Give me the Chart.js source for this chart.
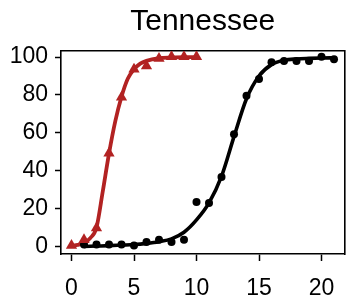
<!DOCTYPE html>
<html>
<head>
<meta charset="utf-8">
<script src="https://cdn.jsdelivr.net/npm/chart.js@4/dist/chart.umd.min.js"></script>
<style>
html,body{margin:0;padding:0;background:#fff;}
#wrap{width:351px;height:301px;position:relative;}
</style>
</head>
<body>
<div id="wrap"><canvas id="c" width="351" height="301"></canvas></div>
<script>
const titleText = "Tennessee";
const xTicks = [0, 5, 10, 15, 20];
const yTicks = [0, 20, 40, 60, 80, 100];

const redDaysX = [0, 1, 2, 3, 4, 5, 6, 7, 8, 9, 10];
const redValues = [0.5, 3.5, 9.7, 49.2, 78.8, 93.5, 95.3, 99.3, 100.2, 100.2, 100.2];

const blackDaysX = [1, 2, 3, 4, 5, 6, 7, 8, 9, 10, 11, 12, 13, 14, 15, 16, 17, 18, 19, 20, 21];
const blackValues = [1, 1, 1, 1, 0.5, 2.3, 3.5, 2.3, 3.5, 23.4, 22.9, 36.6, 59.3, 79.6, 88.4, 97.2, 97.9, 97.9, 97.9, 100.2, 98.9];

const redFitX = [0, 0.5, 1, 1.5, 2, 2.5, 3, 3.5, 4, 4.5, 5, 5.5, 6, 7, 8, 9, 10];
const redFitY = [0.3, 0.8, 1.8, 4.4, 10, 29, 49, 66, 79, 88.5, 93.5, 96.5, 98, 99.4, 99.8, 100, 100];

const blackFitX = [1, 2, 3, 4, 5, 6, 7, 8, 9, 10, 11, 12, 13, 14, 15, 16, 17, 18, 19, 20, 21];
const blackFitY = [0, 0.2, 0.4, 0.7, 1, 1.6, 2.5, 4, 7.5, 14, 23, 37, 58, 78, 90, 96, 98.3, 99, 99.3, 99.5, 99.6];

const RED = 'rgb(178,34,34)';
const BLACK = '#000';
const FONT = "'Liberation Sans', Arial, Helvetica, sans-serif";

const pts = (xs, ys) => xs.map((x, i) => ({x: x, y: ys[i]}));

new Chart(document.getElementById('c'), {
  type: 'scatter',
  data: {
    datasets: [
      {data: pts(redDaysX, redValues), showLine: false, pointStyle: 'triangle', pointRadius: 6.5,
       backgroundColor: RED, borderColor: RED, borderWidth: 0, order: 1},
      {data: pts(blackDaysX, blackValues), showLine: false, pointStyle: 'circle', pointRadius: 4,
       backgroundColor: BLACK, borderColor: BLACK, borderWidth: 0, order: 2},
      {data: pts(redFitX, redFitY), showLine: true, pointRadius: 0, borderColor: RED, borderWidth: 3.8,
       cubicInterpolationMode: 'monotone', order: 3},
      {data: pts(blackFitX, blackFitY), showLine: true, pointRadius: 0, borderColor: BLACK, borderWidth: 3.6,
       cubicInterpolationMode: 'monotone', order: 4}
    ]
  },
  options: {
    responsive: false,
    animation: false,
    devicePixelRatio: 1,
    layout: {padding: {left: 0, right: 3, top: 0, bottom: 0}},
    plugins: {legend: {display: false}, tooltip: {enabled: false}, title: {display: false}},
    scales: {
      x: {
        type: 'linear', position: 'bottom', min: -0.84, max: 21.84,
        afterBuildTicks: s => { s.ticks = xTicks.map(v => ({value: v})); },
        afterFit: s => { s.height = 47; },
        grid: {drawOnChartArea: false, drawTicks: true, tickLength: 7, color: BLACK, tickWidth: 1.5},
        border: {display: true, color: BLACK, width: 1.6},
        ticks: {color: BLACK, font: {family: FONT, size: 23}, padding: 14, maxRotation: 0, autoSkip: false}
      },
      y: {
        type: 'linear', position: 'left', min: -4, max: 103.2,
        afterBuildTicks: s => { s.ticks = yTicks.map(v => ({value: v})); },
        afterFit: s => { s.width = 61; },
        grid: {drawOnChartArea: false, drawTicks: true, tickLength: 6, color: BLACK, tickWidth: 1.5},
        border: {display: true, color: BLACK, width: 1.6},
        ticks: {color: BLACK, font: {family: FONT, size: 23}, padding: 7, autoSkip: false}
      },
      x2: {
        type: 'linear', position: 'top', min: -0.84, max: 21.84,
        afterFit: s => { s.height = 51; },
        grid: {drawOnChartArea: false, drawTicks: false},
        border: {display: true, color: BLACK, width: 1.6},
        ticks: {display: false},
        title: {display: true, text: titleText, color: BLACK, font: {family: FONT, size: 30}, padding: {top: 4, bottom: 0}}
      },
      y2: {
        type: 'linear', position: 'right', min: -4, max: 103.2,
        afterFit: s => { s.width = 0; },
        grid: {drawOnChartArea: false, drawTicks: false},
        border: {display: true, color: BLACK, width: 1.6},
        ticks: {display: false}
      }
    }
  }
});
</script>
</body>
</html>
